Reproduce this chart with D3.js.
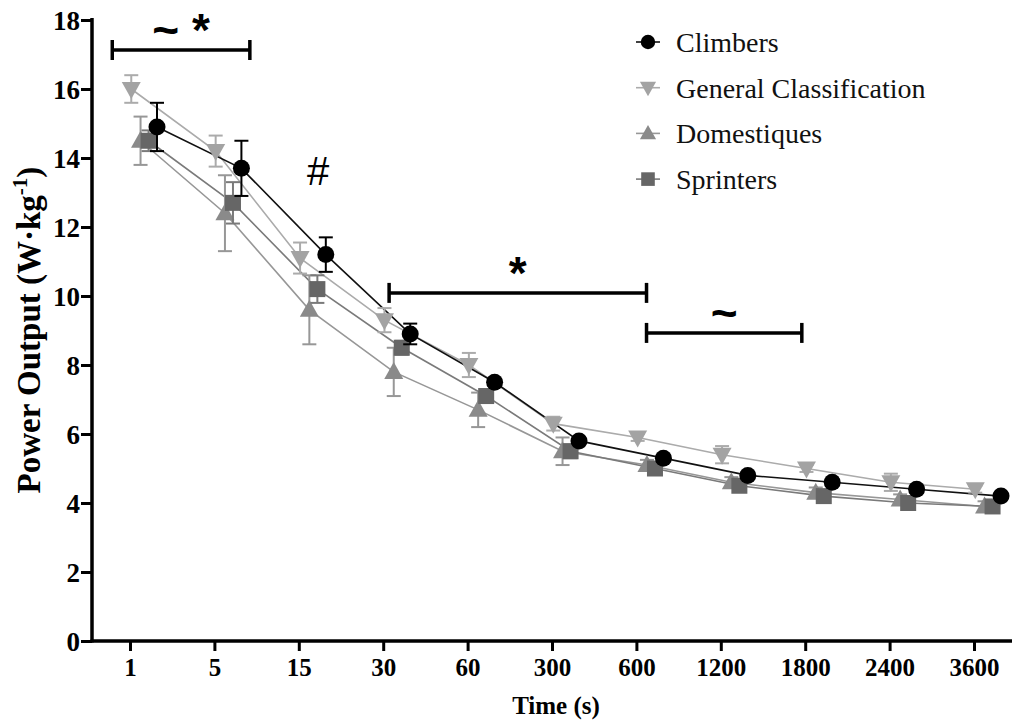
<!DOCTYPE html>
<html>
<head>
<meta charset="utf-8">
<script src="https://cdn.jsdelivr.net/npm/d3@7"></script>
<style>
  html, body { margin: 0; padding: 0; background: #fff; }
  svg { display: block; }
</style>
</head>
<body>
<svg id="chart" width="1015" height="722"></svg>
<script>
// Durations (s) on the categorical x axis
const durations = ["1", "5", "15", "30", "60", "300", "600", "1200", "1800", "2400", "3600"];

// Mean power output (W·kg-1) per rider type
const climbers   = [14.9, 13.7, 11.2, 8.9, 7.5, 5.8, 5.3, 4.8, 4.6, 4.4, 4.2];
const gc         = [16.0, 14.2, 11.1, 9.3, 8.0, 6.3, 5.9, 5.4, 5.0, 4.6, 4.4];
const domestiques= [14.5, 12.4, 9.6, 7.8, 6.7, 5.5, 5.1, 4.6, 4.3, 4.1, 3.9];
const sprinters  = [14.5, 12.7, 10.2, 8.5, 7.1, 5.5, 5.0, 4.5, 4.2, 4.0, 3.9];

// Standard deviations
const climbersSD    = [0.7, 0.8, 0.5, 0.3, 0.1, 0.1, 0.1, 0.1, 0.1, 0.1, 0.1];
const gcSD          = [0.4, 0.45, 0.45, 0.35, 0.35, 0.2, 0.1, 0.25, 0.1, 0.25, 0.1];
const domestiquesSD = [0.7, 1.1, 1.0, 0.7, 0.5, 0.4, 0.15, 0.15, 0.15, 0.15, 0.15];
const sprintersSD   = [0.3, 0.6, 0.4, 0.2, 0.2, 0.2, 0.1, 0.1, 0.1, 0.1, 0.1];

const seriesNames = ["Climbers", "General Classification", "Domestiques", "Sprinters"];

const yTicks = [0, 2, 4, 6, 8, 10, 12, 14, 16, 18];

// Significance brackets: start/end as category positions, height in W·kg-1
const bracketStart = [-0.21, 3.07, 6.12];
const bracketEnd   = [1.42, 6.12, 7.96];
const bracketLevel = [17.13, 10.09, 8.93];
const bracketText  = ["~ *", "*", "~"];

// ---------------------------------------------------------------
const svg = d3.select("#chart");
const serif = "Liberation Serif";
const sans = "Liberation Sans";

const axisX0 = 92, axisX1 = 1012, axisY = 641, axisTop = 20;

const x = d3.scalePoint().domain(durations).range([130, 974]);
const step = x.step();
const xi = i => x(durations[0]) + i * step;   // fractional category position
const y = d3.scaleLinear().domain([0, 18]).range([axisY, axisTop]);

// Series styling; drawing order puts Climbers on top
const series = [
  { name: "General Classification", values: gc, sd: gcSD, shape: "down", fill: "#a3a3a3", line: "#ababab", off: 0.015 },
  { name: "Domestiques", values: domestiques, sd: domestiquesSD, shape: "up", fill: "#8a8a8a", line: "#979797", off: 0.125 },
  { name: "Sprinters", values: sprinters, sd: sprintersSD, shape: "square", fill: "#666666", line: "#7a7a7a", off: 0.22 },
  { name: "Climbers", values: climbers, sd: climbersSD, shape: "circle", fill: "#000000", line: "#111111", off: 0.32 }
];

function marker(sel, shape, fill) {
  if (shape === "circle") {
    sel.append("circle").attr("r", 8.5).attr("fill", fill);
  } else if (shape === "square") {
    sel.append("rect").attr("x", -8).attr("y", -8).attr("width", 16).attr("height", 16).attr("fill", fill);
  } else if (shape === "up") {
    sel.append("path").attr("d", "M0,-10L9.5,7L-9.5,7Z").attr("fill", fill);
  } else {
    sel.append("path").attr("d", "M0,10L9.5,-7L-9.5,-7Z").attr("fill", fill);
  }
}

// Lines
series.forEach(s => {
  const line = d3.line()
    .x((d, i) => x(durations[i]) + s.off * step)
    .y(d => y(d));
  svg.append("path")
    .datum(s.values)
    .attr("d", line)
    .attr("fill", "none")
    .attr("stroke", s.line)
    .attr("stroke-width", 1.6);
});

// Error bars and markers
series.forEach(s => {
  const g = svg.append("g");
  s.values.forEach((v, i) => {
    const cx = x(durations[i]) + s.off * step;
    const top = y(v + s.sd[i]), bot = y(v - s.sd[i]);
    const eb = g.append("g").attr("stroke", s.fill === "#000000" ? "#000" : s.line).attr("stroke-width", 2);
    eb.append("line").attr("x1", cx).attr("x2", cx).attr("y1", top).attr("y2", bot);
    eb.append("line").attr("x1", cx - 7).attr("x2", cx + 7).attr("y1", top).attr("y2", top);
    eb.append("line").attr("x1", cx - 7).attr("x2", cx + 7).attr("y1", bot).attr("y2", bot);
  });
  s.values.forEach((v, i) => {
    const cx = x(durations[i]) + s.off * step;
    const m = g.append("g").attr("transform", `translate(${cx},${y(v)})`);
    marker(m, s.shape, s.fill);
  });
});

// Axes
const yAxis = d3.axisLeft(y).tickValues(yTicks).tickSize(11).tickPadding(1).tickFormat(d3.format("d"));
const gy = svg.append("g").attr("transform", `translate(${axisX0},0)`).call(yAxis)
  .attr("font-family", serif).attr("font-size", 27).attr("font-weight", "bold");
gy.select(".domain").remove();
gy.selectAll(".tick line").attr("stroke", "#000").attr("stroke-width", 3);
gy.selectAll(".tick text").attr("fill", "#000").attr("dy", "0.34em");

const xAxis = d3.axisBottom(x).tickSize(10).tickPadding(7);
const gx = svg.append("g").attr("transform", `translate(0,${axisY})`).call(xAxis)
  .attr("font-family", serif).attr("font-size", 25).attr("font-weight", "bold");
gx.select(".domain").remove();
gx.selectAll(".tick line").attr("stroke", "#000").attr("stroke-width", 3);
gx.selectAll(".tick text").attr("fill", "#000");

svg.append("line").attr("x1", axisX0).attr("x2", axisX0).attr("y1", axisTop - 2).attr("y2", axisY + 1.5)
  .attr("stroke", "#000").attr("stroke-width", 3.5);
svg.append("line").attr("x1", axisX0 - 1.5).attr("x2", axisX1).attr("y1", axisY).attr("y2", axisY)
  .attr("stroke", "#000").attr("stroke-width", 3.5);

// Axis titles
svg.append("text").attr("x", 556).attr("y", 714).attr("text-anchor", "middle")
  .attr("font-family", serif).attr("font-weight", "bold").attr("font-size", 25).text("Time (s)");

const yt = svg.append("text").attr("transform", "translate(40,330) rotate(-90)").attr("text-anchor", "middle")
  .attr("font-family", serif).attr("font-weight", "bold").attr("font-size", 33);
yt.append("tspan").text("Power Output (W·kg");
yt.append("tspan").attr("font-size", 21).attr("dy", -13).text("-1");
yt.append("tspan").attr("dy", 13).text(")");

// Significance brackets
bracketText.forEach((t, k) => {
  const x1 = xi(bracketStart[k]), x2 = xi(bracketEnd[k]), yy = y(bracketLevel[k]);
  const g = svg.append("g").attr("stroke", "#000").attr("stroke-width", 3.5);
  g.append("line").attr("x1", x1).attr("x2", x2).attr("y1", yy).attr("y2", yy);
  g.append("line").attr("x1", x1).attr("x2", x1).attr("y1", yy - 10).attr("y2", yy + 10);
  g.append("line").attr("x1", x2).attr("x2", x2).attr("y1", yy - 10).attr("y2", yy + 10);
  svg.append("text").attr("x", (x1 + x2) / 2).attr("y", yy - 4).attr("text-anchor", "middle")
    .attr("font-family", sans).attr("font-weight", "bold").attr("font-size", 46)
    .style("white-space", "pre").text(t);
});

// Group difference marker
svg.append("text").attr("x", xi(2.23)).attr("y", y(13.22)).attr("text-anchor", "middle")
  .attr("font-family", sans).attr("font-size", 40).text("#");

// Legend
const legendOrder = ["Climbers", "General Classification", "Domestiques", "Sprinters"];
legendOrder.forEach((name, k) => {
  const s = series.find(d => d.name === name);
  const ly = 42 + k * 45.7;
  const g = svg.append("g").attr("transform", `translate(648,${ly})`);
  g.append("line").attr("x1", -12).attr("x2", 12).attr("stroke", s.line).attr("stroke-width", 1.6);
  const m = g.append("g").attr("transform", "scale(0.85)");
  marker(m, s.shape, s.fill);
  svg.append("text").attr("x", 676).attr("y", ly).attr("dy", "0.35em")
    .attr("font-family", serif).attr("font-size", 28).attr("fill", "#111").text(name);
});
</script>
</body>
</html>
